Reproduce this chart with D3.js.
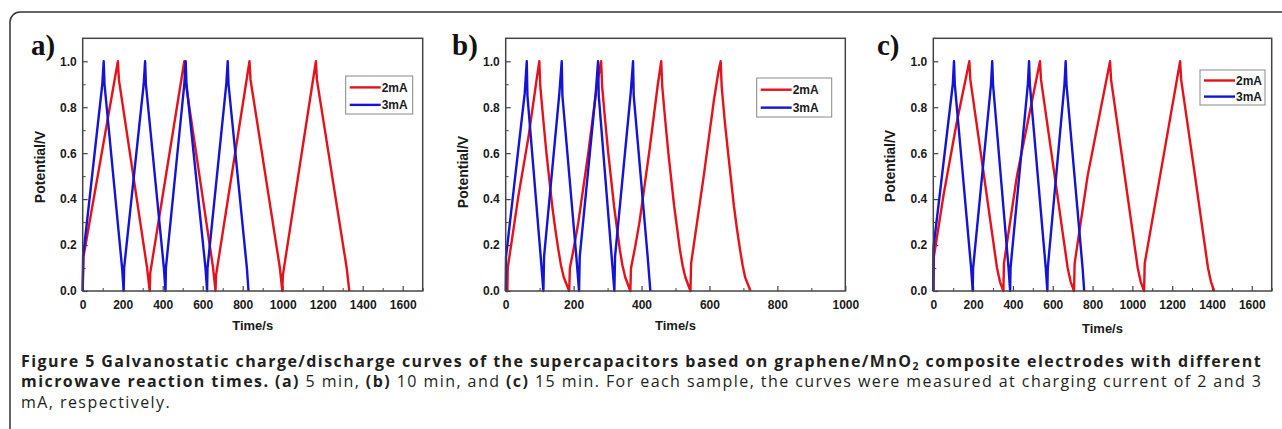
<!DOCTYPE html>
<meta charset="utf-8">
<script src="https://d3js.org/d3.v7.min.js"></script>
<style>
  body { margin: 0; background: #fff; }
  .tick text { font-family: Arial, "Liberation Sans", sans-serif; font-weight: bold; font-size: 12px; fill: #1a1a1a; }
  .axis-title { font-family: Arial, "Liberation Sans", sans-serif; font-weight: bold; fill: #1a1a1a; }
  .panel-tag { font-family: "Liberation Serif", "DejaVu Serif", serif; font-weight: bold; font-size: 29px; fill: #111; }
  .caption { font-family: "Open Sans", "Noto Sans", sans-serif; fill: #231f20; }
</style>
<body>
<div id="chart"></div>
<script>
// ---------------- data: [time (s), potential (V)] ----------------
var yTicks = [0, 0.2, 0.4, 0.6, 0.8, 1.0];
var xTicksLong = [0, 200, 400, 600, 800, 1000, 1200, 1400, 1600];
var xTicksShort = [0, 200, 400, 600, 800, 1000];
var seriesNames = ["2mA", "3mA"];

// (a) 5 min
var aRed = [[0,0],[4,0.15],[176,1.0],[181,0.92],[322,0.1],[335,0],[338,0.08],[508,1.0],[513,0.92],[652,0.1],[664,0],[667,0.07],
            [834,1.0],[839,0.92],[986,0.1],[998,0],[1001,0.07],[1166,1.0],[1171,0.92],[1320,0.1],[1333,0]];
var aBlue = [[0,0],[2,0.15],[98,0.9],[105,1.0],[109,0.9],[197,0.1],[205,0],[207,0.1],[305,0.9],[312,1.0],[316,0.9],
             [406,0.1],[414,0],[416,0.1],[508,0.9],[515,1.0],[519,0.9],[614,0.1],[622,0],[624,0.1],[718,0.9],[725,1.0],
             [729,0.9],[821,0.1],[829,0]];

// (b) 10 min
var bRed = [[0,0],[5,0],[6,0.1],[37,0.41],[67,0.67],[92,0.93],[99,1.0],[102,0.89],[111,0.74],[120,0.6],[137,0.37],[146,0.27],[155,0.18],[163,0.11],[171,0.06],[187,0],
            [189,0.1],[201,0.19],[214,0.3],[244,0.61],[269,0.9],[281,1.0],[284,0.89],[293,0.74],[302,0.6],[319,0.37],[328,0.27],[336,0.18],[344,0.11],[352,0.06],[367,0],
            [369,0.1],[381,0.19],[394,0.3],[424,0.62],[448,0.9],[458,1.0],[461,0.89],[470,0.74],[479,0.6],[496,0.37],[505,0.27],[513,0.18],[521,0.11],[529,0.06],[544,0],
            [546,0.12],[584,0.51],[613,0.83],[627,0.96],[633,1.0],[636,0.89],[645,0.74],[655,0.6],[672,0.37],[681,0.27],[690,0.18],[698,0.11],[705,0.06],[721,0]];
var bBlue = [[0,0],[1,0.15],[56,0.86],[62,1.0],[64,0.85],[103,0.15],[111,0],[113,0.15],[158,0.86],[165,1.0],[167,0.85],
             [208,0.15],[216,0],[218,0.15],[265,0.86],[272,1.0],[274,0.85],[312,0.15],[320,0],[322,0.15],[368,0.86],
             [375,1.0],[377,0.85],[418,0.15],[426,0]];

// (c) 15 min
var cRed = [[0,0],[3,0.15],[50,0.41],[117,0.73],[181,1.0],[186,0.92],[250,0.53],[320,0.1],[335,0.04],[352,0],
            [355,0.12],[420,0.5],[536,1.0],[541,0.92],[605,0.53],[675,0.1],[690,0.04],[707,0],
            [710,0.12],[775,0.5],[888,1.0],[893,0.92],[957,0.53],[1027,0.1],[1042,0.04],[1059,0],
            [1062,0.12],[1139,0.5],[1240,1.0],[1245,0.92],[1310,0.53],[1380,0.1],[1395,0.04],[1411,0]];
var cBlue = [[0,0],[1,0.19],[98,0.9],[104,1.0],[108,0.9],[190,0.1],[198,0],[200,0.1],[290,0.9],[296,1.0],[300,0.9],
             [378,0.1],[386,0],[388,0.1],[475,0.9],[481,1.0],[485,0.9],[565,0.1],[573,0],[575,0.1],[659,0.9],[665,1.0],
             [669,0.9],[750,0.1],[758,0]];

var colors = { "2mA": "#e3121b", "3mA": "#1414d4" };

// ---------------- layout ----------------
var W = 1282, H = 429;
var plotTop = 38.3, plotBottom = 291;

var panels = [
  { tag: "a)", tagX: 31, left: 82.7, right: 422.7, xMax: 1700, xTicks: xTicksLong, red: aRed, blue: aBlue,
    yTitleX: 40, yTitleY: 167, xTitleY: 330, legend: { x: 345.7, y: 76, w: 67, h: 38 } },
  { tag: "b)", tagX: 452, left: 505.7, right: 845.3, xMax: 1000, xTicks: xTicksShort, red: bRed, blue: bBlue,
    yTitleX: 463, yTitleY: 172, xTitleY: 330, legend: { x: 756.7, y: 78, w: 75, h: 39 } },
  { tag: "c)", tagX: 877, left: 933.3, right: 1271.7, xMax: 1700, xTicks: xTicksLong, red: cRed, blue: cBlue,
    yTitleX: 890, yTitleY: 166, xTitleY: 333, legend: { x: 1200, y: 70, w: 65, h: 35 } }
];

var svg = d3.select("#chart").append("svg")
    .attr("width", W)
    .attr("height", H);

// rounded outer frame
svg.append("rect")
    .attr("x", 10).attr("y", 12)
    .attr("width", 1320).attr("height", 440)
    .attr("rx", 10)
    .attr("fill", "none")
    .attr("stroke", "#333")
    .attr("stroke-width", 1.5);

panels.forEach(function(p) {
  var g = svg.append("g");

  var x = d3.scaleLinear().domain([0, p.xMax]).range([p.left, p.right]);
  var y = d3.scaleLinear().domain([0, 1.1]).range([plotBottom, plotTop]);

  // minor ticks
  var minorX = [];
  p.xTicks.forEach(function(t) { if (t + 100 <= p.xMax) minorX.push(t + 100); });
  g.append("g")
      .attr("transform", "translate(0," + plotBottom + ")")
      .call(d3.axisBottom(x).tickValues(minorX).tickSize(-3).tickFormat(""))
      .call(function(s) { s.select(".domain").remove(); s.selectAll("line").attr("stroke", "#444"); });
  g.append("g")
      .attr("transform", "translate(" + p.left + ",0)")
      .call(d3.axisLeft(y).tickValues([0.1, 0.3, 0.5, 0.7, 0.9]).tickSize(-3).tickFormat(""))
      .call(function(s) { s.select(".domain").remove(); s.selectAll("line").attr("stroke", "#444"); });

  // major ticks
  g.append("g")
      .attr("transform", "translate(0," + plotBottom + ")")
      .call(d3.axisBottom(x).tickValues(p.xTicks).tickSize(-5).tickPadding(9).tickFormat(d3.format("d")))
      .call(function(s) { s.select(".domain").remove(); s.selectAll("line").attr("stroke", "#444").attr("stroke-width", 1.2); });
  g.append("g")
      .attr("transform", "translate(" + p.left + ",0)")
      .call(d3.axisLeft(y).tickValues(yTicks).tickSize(-5).tickPadding(6).tickFormat(d3.format(".1f")))
      .call(function(s) { s.select(".domain").remove(); s.selectAll("line").attr("stroke", "#444").attr("stroke-width", 1.2); });

  // curves
  var line = d3.line()
      .x(function(d) { return x(d[0]); })
      .y(function(d) { return y(d[1]); });

  g.append("path").datum(p.red)
      .attr("d", line).attr("fill", "none")
      .attr("stroke", colors["2mA"]).attr("stroke-width", 2.4).attr("stroke-linejoin", "round");
  g.append("path").datum(p.blue)
      .attr("d", line).attr("fill", "none")
      .attr("stroke", colors["3mA"]).attr("stroke-width", 2.4).attr("stroke-linejoin", "round");

  // plot frame
  g.append("rect")
      .attr("x", p.left).attr("y", plotTop)
      .attr("width", p.right - p.left).attr("height", plotBottom - plotTop)
      .attr("fill", "none").attr("stroke", "#444").attr("stroke-width", 1.5);

  // legend
  var L = p.legend;
  var lg = g.append("g").attr("transform", "translate(" + L.x + "," + L.y + ")");
  lg.append("rect").attr("width", L.w).attr("height", L.h)
      .attr("fill", "#fff").attr("stroke", "#888").attr("stroke-width", 1);
  seriesNames.forEach(function(name, i) {
    var ly = L.h * (0.3 + 0.46 * i);
    lg.append("line").attr("x1", 4).attr("x2", 35).attr("y1", ly).attr("y2", ly)
        .attr("stroke", colors[name]).attr("stroke-width", 2.4);
    lg.append("text").attr("x", 36).attr("y", ly + 4.5)
        .attr("class", "axis-title").style("font-size", "12px")
        .text(name);
  });

  // axis titles
  g.append("text")
      .attr("class", "axis-title")
      .attr("text-anchor", "middle")
      .attr("transform", "translate(" + (p.yTitleX + 5) + "," + p.yTitleY + ") rotate(-90)")
      .style("font-size", "14px")
      .text("Potential/V");
  g.append("text")
      .attr("class", "axis-title")
      .attr("text-anchor", "middle")
      .attr("x", (p.left + p.right) / 2)
      .attr("y", p.xTitleY)
      .style("font-size", "13px")
      .text("Time/s");

  // panel tag
  g.append("text")
      .attr("class", "panel-tag")
      .attr("x", p.tagX)
      .attr("y", 55)
      .text(p.tag);
});

// ---------------- caption ----------------
var cap = svg.append("g").attr("class", "caption").style("font-size", "16px");
var line1 = cap.append("text").attr("x", 21).attr("y", 367).style("font-weight", "bold");
line1.append("tspan").text("Figure 5 Galvanostatic charge/discharge curves of the supercapacitors based on graphene/MnO");
line1.append("tspan").attr("dy", 3).style("font-size", "65%").text("2");
line1.append("tspan").attr("dy", -3).text(" composite electrodes with different");

var line2 = cap.append("text").attr("x", 21).attr("y", 387);
var parts2 = [
  ["microwave reaction times. ", true], ["(a)", true], [" 5 min, ", false], ["(b)", true],
  [" 10 min, and ", false], ["(c)", true],
  [" 15 min. For each sample, the curves were measured at charging current of 2 and 3", false]
];
parts2.forEach(function(d) {
  line2.append("tspan").style("font-weight", d[1] ? "bold" : "normal").text(d[0]);
});

var line3 = cap.append("text").attr("x", 21).attr("y", 408).text("mA, respectively.");

// stretch the caption with letter spacing so the first line spans the figure width
var w1 = line1.node().getComputedTextLength();
var n1 = line1.text().length;
cap.style("letter-spacing", ((1241 - w1) / n1) + "px");
</script>
</body>
